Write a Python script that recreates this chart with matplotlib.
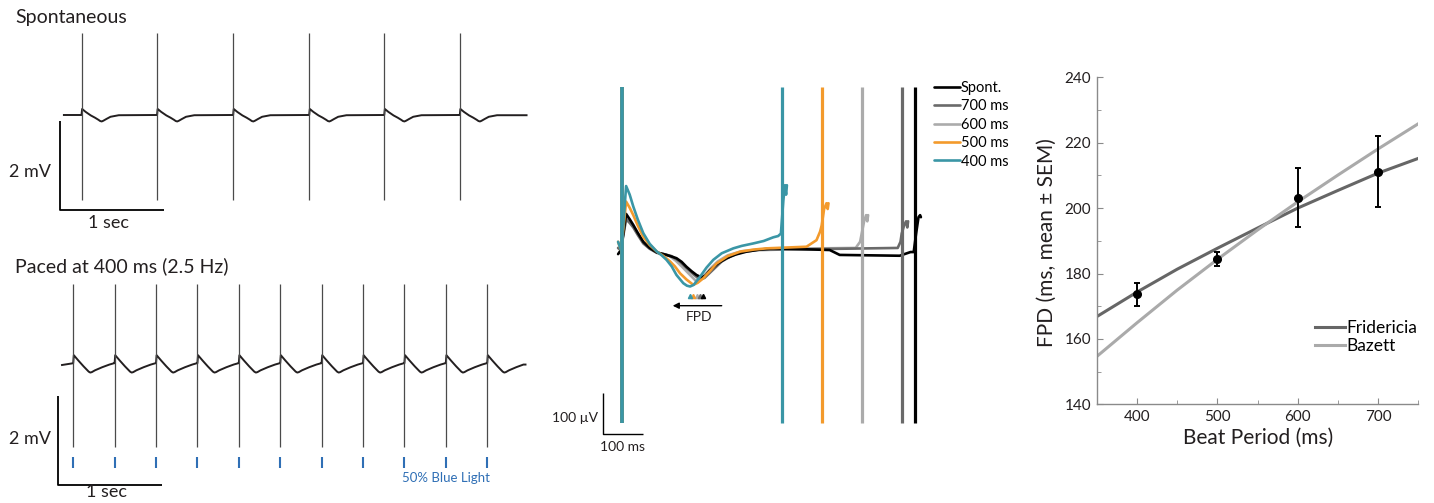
import matplotlib
matplotlib.use('Agg')
import matplotlib.pyplot as plt

plt.rcParams['font.family'] = ['Lato', 'DejaVu Sans']

# ------------------------------------------------------------------ data
# Panel A top: spontaneous beating (s, mV)
spont_spike_times = [0.00, 0.73, 1.465, 2.20, 2.925, 3.655]
spont_tmpl_t = [0.0, 0.006, 0.04, 0.09, 0.13, 0.165, 0.18, 0.195, 0.21, 0.24, 0.28, 0.36, 0.72]
spont_tmpl_v = [0.0, 0.135, 0.07, -0.01, -0.06, -0.11, -0.135, -0.145, -0.13, -0.09, -0.04, -0.005, 0.0]
spont_range = [-0.17, 4.30]
spont_spike_amp = [-1.90, 1.84]

# Panel A bottom: paced at 400 ms (s, mV)
paced_spike_times = [0.0, 0.4, 0.8, 1.2, 1.6, 2.0, 2.4, 2.8, 3.2, 3.6, 4.0]
paced_tmpl_t = [0.0, 0.006, 0.05, 0.10, 0.15, 0.165, 0.18, 0.21, 0.28, 0.35, 0.395]
paced_tmpl_v = [0.04, 0.22, 0.10, -0.03, -0.15, -0.17, -0.16, -0.12, -0.05, 0.01, 0.04]
paced_range = [-0.108, 4.37]
paced_spike_amp = [-1.84, 1.82]

# Panel B: overlaid field potentials (ms, uV)
fp_labels = ['Spont.', '700 ms', '600 ms', '500 ms', '400 ms']
fp_colors = ['#000000', '#6a6a6a', '#ababab', '#f39a2c', '#3a96a6']
fp_periods = [733, 700, 600, 500, 400]
fp_t = [
    [-9, -2, 4, 11, 20, 29, 40, 54, 70, 88, 112, 137, 150, 162, 175, 187, 200, 210, 221, 240, 262, 285, 312, 345, 379,
     520, 545, 695, 722, 730, 736, 742, 746, 748],
    [-9, -2, 4, 11, 20, 29, 40, 54, 70, 88, 105, 125, 145, 160, 178, 195, 207, 220, 235, 250, 275, 300, 340, 400,
     690, 697, 700, 706, 711, 714, 716],
    [-9, -2, 4, 11, 20, 29, 40, 54, 70, 88, 105, 120, 135, 150, 170, 187, 198, 210, 225, 240, 265, 300, 340, 400,
     585, 596, 600, 606, 611, 614, 616],
    [-9, -2, 4, 11, 20, 29, 40, 54, 70, 88, 105, 121, 133, 146, 162, 179, 190, 204, 220, 237, 265, 296, 330, 362,
     462, 487, 496, 500, 506, 512, 515, 517],
    [-9, -2, 4, 11, 20, 29, 40, 54, 70, 88, 100, 112, 125, 137, 154, 163, 171, 180, 196, 212, 229, 250, 279, 300, 329,
     355, 379, 391, 398, 404, 408, 411, 413],
]
fp_v = [
    [-10, 0, 40, 88, 75, 61, 42, 20, 5, -6, -12, -20, -29, -41, -52, -61, -67, -62, -49, -33, -20, -11, -4, 1, 4,
     0, -12, -14, -5, -5, 40, 80, 85, 80],
    [5, 0, 35, 75, 66, 55, 37, 16, 3, -7, -10, -15, -28, -42, -58, -72, -68, -56, -42, -28, -14, -5, 0, 1,
     5, 20, 40, 60, 70, 55, 70],
    [5, 0, 40, 80, 70, 58, 40, 18, 4, -6, -10, -15, -26, -40, -60, -77, -70, -58, -42, -28, -13, -3, 1, 3,
     5, 20, 40, 70, 85, 70, 85],
    [20, 0, 50, 118, 103, 85, 60, 32, 12, -4, -15, -28, -40, -57, -72, -85, -80, -69, -52, -33, -15, -4, 1, 4,
     8, 24, 45, 60, 100, 114, 100, 114],
    [20, 0, 60, 156, 135, 106, 75, 41, 15, -4, -13, -24, -40, -61, -81, -87, -89, -85, -65, -43, -24, -8, 4, 10, 16,
     22, 31, 34, 40, 120, 158, 135, 158],
]
fp_marker_t = [203, 195, 187, 179, 171]
fp_marker_v = -111
fp_spike_amp = [-422, 398]

# Panel C: FPD vs beat period
beat_period = [400, 500, 600, 700]
fpd_mean = [173.6, 184.4, 203.2, 211.1]
fpd_sem = [3.4, 2.2, 9.1, 10.9]
fit_x = [350, 400, 450, 500, 550, 600, 650, 700, 750]
frid_y = [166.8, 174.3, 181.3, 187.7, 193.9, 200.0, 205.4, 210.7, 215.2]
baz_y = [154.6, 164.9, 174.9, 184.3, 193.3, 201.9, 210.1, 218.1, 225.8]

# ------------------------------------------------------------------ figure
W, H = 1434, 503
fig = plt.figure(figsize=(W / 100, H / 100), dpi=100)


def add_ax(x0, y0, x1, y1):
    return fig.add_axes([x0 / W, 1 - y1 / H, (x1 - x0) / W, (y1 - y0) / H])


def ftext(px, py, s, **kw):
    return fig.text(px / W, 1 - py / H, s, **kw)


def build_trace(spikes, tt, vv, rng):
    xs, ys = [rng[0]], [0.0]
    for s in spikes:
        for a, b in zip(tt, vv):
            if s + a <= rng[1]:
                xs.append(s + a)
                ys.append(b)
    xs.append(rng[1])
    ys.append(ys[-1])
    return xs, ys


TRACE_C = '#231f20'
SPIKE_C = '#4a4a4a'
TXT_C = '#231f20'

# ---------------- Panel A top
pxs = 103.5   # px per second
pmv = 44.5    # px per mV
ax1 = add_ax(0, 0, 540, 250)
x0p, base = 81.5, 115
ax1.set_xlim((0 - x0p) / pxs, (540 - x0p) / pxs)
ax1.set_ylim((base - 250) / pmv, (base - 0) / pmv)
ax1.axis('off')
xs, ys = build_trace(spont_spike_times, spont_tmpl_t, spont_tmpl_v, spont_range)
ax1.plot(xs, ys, color=TRACE_C, lw=1.4, zorder=2, solid_joinstyle='round')
ax1.vlines(spont_spike_times, spont_spike_amp[0], spont_spike_amp[1], color=SPIKE_C, lw=0.9, zorder=3)
sbx = (60 - x0p) / pxs
sby = (base - 210) / pmv
ax1.plot([sbx, sbx, sbx + 1.0], [sby + 2.0, sby, sby], color='k', lw=1.3, solid_capstyle='butt')
ftext(15, 17, 'Spontaneous', fontsize=14, va='center', ha='left', color=TXT_C)
ftext(30, 172, '2 mV', fontsize=13, va='center', ha='center', color=TXT_C)
ftext(108, 223, '1 sec', fontsize=13, va='center', ha='center', color=TXT_C)

# ---------------- Panel A bottom
ax2 = add_ax(0, 250, 540, 503)
x0p, base = 73.2, 365
ax2.set_xlim((0 - x0p) / pxs, (540 - x0p) / pxs)
ax2.set_ylim((base - 503) / pmv, (base - 250) / pmv)
ax2.axis('off')
xs, ys = build_trace(paced_spike_times, paced_tmpl_t, paced_tmpl_v, paced_range)
ax2.plot(xs, ys, color=TRACE_C, lw=1.4, zorder=2, solid_joinstyle='round')
ax2.vlines(paced_spike_times, paced_spike_amp[0], paced_spike_amp[1], color=SPIKE_C, lw=0.9, zorder=3)
ax2.vlines(paced_spike_times, (base - 457) / pmv, (base - 468) / pmv, color='#2f6fb5', lw=1.5)
sbx = (58.5 - x0p) / pxs
sby = (base - 485) / pmv
ax2.plot([sbx, sbx, sbx + 1.0], [sby + 2.0, sby, sby], color='k', lw=1.3, solid_capstyle='butt')
ftext(15, 266, 'Paced at 400 ms (2.5 Hz)', fontsize=14, va='center', ha='left', color=TXT_C)
ftext(30, 439, '2 mV', fontsize=13, va='center', ha='center', color=TXT_C)
ftext(107, 492, '1 sec', fontsize=13, va='center', ha='center', color=TXT_C)
ftext(490, 478, '50% Blue Light', fontsize=9.5, va='center', ha='right', color='#2f6fb5')

# ---------------- Panel B
ax3 = add_ax(540, 60, 1020, 470)
x0p, base, pms, puv = 621.7, 250, 0.4, 0.41
ax3.set_xlim((540 - x0p) / pms, (1020 - x0p) / pms)
ax3.set_ylim((base - 470) / puv, (base - 60) / puv)
ax3.axis('off')
order = [2, 1, 0, 3, 4]
handles = {}
for z, i in enumerate(order):
    ln, = ax3.plot(fp_t[i], fp_v[i], color=fp_colors[i], lw=1.9, zorder=2 + z,
                   solid_joinstyle='round', solid_capstyle='round')
    handles[i] = ln
    ax3.vlines([fp_periods[i]], fp_spike_amp[0], fp_spike_amp[1], color=fp_colors[i], lw=2.3, zorder=10 + z)
    ax3.vlines([0], fp_spike_amp[0], fp_spike_amp[1], color=fp_colors[i], lw=2.7, zorder=10 + z)
    ax3.plot([fp_marker_t[i]], [fp_marker_v], marker='^', ms=3, color=fp_colors[i], zorder=20 + z, ls='none')
ax3.annotate('', xy=((672.7 - x0p) / pms, (base - 305.7) / puv),
             xytext=((721.7 - x0p) / pms, (base - 305.7) / puv),
             arrowprops=dict(arrowstyle='-|>', lw=1.0, color='k', mutation_scale=9, shrinkA=0, shrinkB=0))
ftext(699, 317, 'FPD', fontsize=10, ha='center', va='center', color=TXT_C)
sbx = (603 - x0p) / pms
sby = (base - 434) / puv
ax3.plot([sbx, sbx, sbx + 100], [sby + 100, sby, sby], color='k', lw=1.0, solid_capstyle='butt', clip_on=False)
ftext(598, 418, '100 µV', fontsize=10, ha='right', va='center', color=TXT_C)
ftext(623, 447, '100 ms', fontsize=10, ha='center', va='center', color=TXT_C)
ax3.legend([handles[i] for i in range(5)], fp_labels, loc='upper left',
           bbox_to_anchor=(934 / W, 1 - 81 / H), bbox_transform=fig.transFigure,
           frameon=False, fontsize=10.5, handlelength=1.75, handletextpad=0.1,
           labelspacing=0.3, borderpad=0, borderaxespad=0)

# ---------------- Panel C
ax4 = add_ax(1096.7, 77.3, 1418.3, 404.3)
ax4.set_xlim(350, 750)
ax4.set_ylim(140, 240)
ax4.plot(fit_x, frid_y, color='#666666', lw=2.2, label='Fridericia', zorder=2)
ax4.plot(fit_x, baz_y, color='#aaaaaa', lw=2.2, label='Bazett', zorder=2)
ax4.errorbar(beat_period, fpd_mean, yerr=fpd_sem, fmt='o', color='k', ms=5.5,
             elinewidth=1.4, capsize=2.5, capthick=1.4, zorder=5)
for s in ['top', 'right']:
    ax4.spines[s].set_visible(False)
for s in ['left', 'bottom']:
    ax4.spines[s].set_color('#8a8a8a')
    ax4.spines[s].set_linewidth(1.0)
ax4.set_xticks([400, 500, 600, 700])
ax4.set_xticks([450, 550, 650, 750], minor=True)
ax4.set_yticks([140, 160, 180, 200, 220, 240])
ax4.set_yticks([150, 170, 190, 210, 230], minor=True)
ax4.tick_params(which='both', direction='in', color='#8a8a8a', labelsize=11, labelcolor=TXT_C)
ax4.tick_params(which='major', length=4, pad=4)
ax4.tick_params(which='minor', length=3)
ax4.set_xlabel('Beat Period (ms)', fontsize=15, color=TXT_C)
ax4.set_ylabel('FPD (ms, mean ± SEM)', fontsize=15, color=TXT_C)
ax4.xaxis.set_label_coords((1258 - 1096.7) / 321.6, (404.3 - 438) / 327)
ax4.xaxis.label.set_va('center')
ax4.yaxis.set_label_coords((1046.7 - 1096.7) / 321.6, (404.3 - 243) / 327)
ax4.yaxis.label.set_va('center')
ax4.legend(loc='upper left', bbox_to_anchor=(1315 / W, 1 - 320 / H), bbox_transform=fig.transFigure,
           frameon=False, fontsize=12.5, handlelength=1.7, handletextpad=0.1,
           labelspacing=0.1, borderpad=0, borderaxespad=0)

fig.savefig('out.png', dpi=100)
